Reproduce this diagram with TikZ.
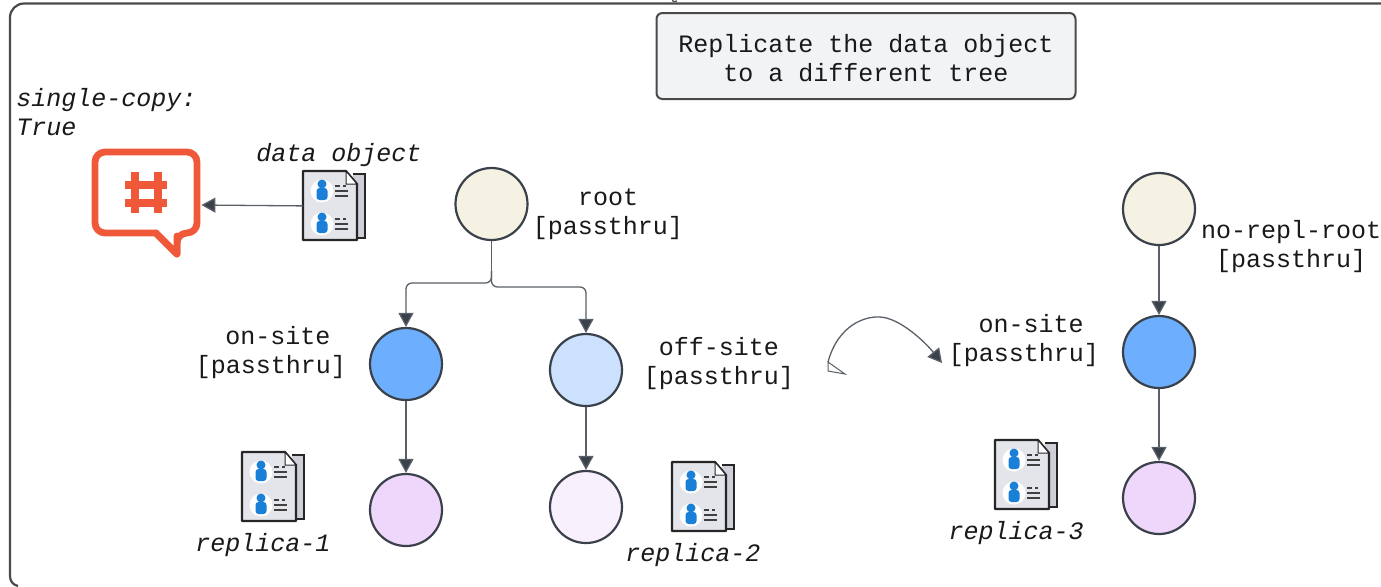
\documentclass[tikz,border=0pt]{standalone}
\usepackage{fontspec}
\setmainfont{Liberation Mono}
\usetikzlibrary{arrows.meta}
\definecolor{edgec}{HTML}{3A414A}
\definecolor{linec}{HTML}{5A6068}
\definecolor{framec}{HTML}{4A4A4A}
\definecolor{rootc}{HTML}{F5F1E3}
\definecolor{blue1}{HTML}{6DAEFF}
\definecolor{blue2}{HTML}{CCE1FD}
\definecolor{pur1}{HTML}{EFD6FB}
\definecolor{pur2}{HTML}{F9F0FD}
\definecolor{boxc}{HTML}{F1F3F5}
\definecolor{orangec}{HTML}{F0583A}
\definecolor{pagec}{HTML}{E4E5EA}
\definecolor{backc}{HTML}{CFCFD8}
\definecolor{personc}{HTML}{1A7FD6}
\tikzset{
 x=0.5pt,y=-0.5pt,
 circ/.style={circle,draw=edgec,line width=1.1pt,minimum size=36pt,inner sep=0pt},
 lbl/.style={font=\fontsize{12.5}{14.3}\selectfont,align=center,inner sep=0pt,text=black!90},
 ital/.style={lbl,font=\fontsize{12.5}{14.5}\selectfont\itshape},
 conn/.style={draw=linec,line width=0.65pt,-{Triangle[length=7pt,width=7.5pt,fill=edgec]}},
 docanchor/.style={inner sep=0pt,minimum width=27pt,minimum height=34.5pt,draw=none},
}
\newcommand{\docicon}[3]{%
 % #1 = left x of front page, #2 = top y of front page, #3 = node name
 \begin{scope}[shift={(#1,#2)}]
  \draw[black!85,line width=1.1pt,fill=backc] (50,3) -- (62,3) -- (62,67) -- (52,67);
  \draw[black!85,line width=1.1pt,fill=pagec,line join=round] (0,0) -- (43,0) -- (54,13) -- (54,69) -- (0,69) -- cycle;
  \draw[black!85,line width=0.5pt,fill=white] (43,0) -- (43,13) -- (54,13) -- cycle;
  \foreach \yy in {18,51}{
   \fill[white] (19,\yy+2) circle (11.5);
   \fill[personc] (19,\yy-5) circle (4.5);
   \fill[personc,rounded corners=1.5pt] (13.5,\yy-1) rectangle (24.5,\yy+11);
   \fill[black!75] (32,\yy-4.5) rectangle (37,\yy-2.5);
   \fill[black!75] (40,\yy-4.5) rectangle (43,\yy-2.5);
   \fill[black!75] (32,\yy+0.5) rectangle (45,\yy+2.5);
   \fill[black!75] (32,\yy+5.5) rectangle (45,\yy+7.5);
  }
 \end{scope}
 \node[docanchor,anchor=north west] (#3) at (#1,#2) {};
}
\begin{document}
\begin{tikzpicture}
\useasboundingbox (0,0) rectangle (1381,586);
\fill[white] (0,0) rectangle (1381,586);
% frame
\draw[framec,line width=1.1pt,rounded corners=7pt] (10,400) -- (10,3.5) -- (1400,3.5);
\draw[framec,line width=1.1pt] (10,400) -- (10,576) .. controls (10,581) and (13,585) .. (18,586);
\draw[framec,line width=0.6pt] (672,0.5) .. controls (673,1.5) and (675,2) .. (677,1);
% title box
\node[lbl,draw=framec,line width=1pt,fill=boxc,rounded corners=3pt,minimum width=209.5pt,minimum height=43pt] (title) at (866,56) {\phantom{}};
\node[lbl] (titletext) at (866,58) {Replicate the data object\\to a different tree};
% circles
\node[circ,fill=rootc] (root) at (491.5,204) {};
\node[circ,fill=blue1] (on1) at (406,364) {};
\node[circ,fill=blue2] (off) at (586,370) {};
\node[circ,fill=pur1] (r1) at (406,510) {};
\node[circ,fill=pur2] (r2) at (586,507) {};
\node[circ,fill=rootc] (nroot) at (1159,209) {};
\node[circ,fill=blue1] (on2) at (1159,352) {};
\node[circ,fill=pur1] (r3) at (1159,498) {};
% texts
\node[ital,align=left,anchor=north west] (single) at (16,88) {single-copy:\\True};
\node[ital] (dolabel) at (339,155) {data object};
\node[lbl] (rootl) at (608,214) {root\\{}[passthru]};
\node[lbl] (onl1) at (271,352.5) {\hspace*{7pt}on-site\\{}[passthru]};
\node[lbl] (offl) at (719,363.5) {off-site\\{}[passthru]};
\node[lbl] (nrootl) at (1291,246.5) {no-repl-root\\{}[passthru]};
\node[lbl] (onl2) at (1024,340.5) {\hspace*{7pt}on-site\\{}[passthru]};
\node[ital] (rl1) at (263,545) {replica-1};
\node[ital] (rl2) at (693,555) {replica-2};
\node[ital] (rl3) at (1016,533) {replica-3};
% documents
\docicon{303}{171}{dobj}
\docicon{242}{452}{doc1}
\docicon{672}{462}{doc2}
\docicon{995}{440}{doc3}
% chat bubble
\node[inner sep=0pt,minimum width=55pt,minimum height=30pt] (chat) at (146,205) {};
\draw[orangec,line width=3.4pt,line join=round] (177,254) -- (156,233) [rounded corners=5pt] -- (95,233) -- (95,152) -- (197,152) -- (197,233) -- (177,233) [sharp corners] -- (177,254) -- cycle;
\fill[white] (172,227) -- (175,235.5) -- (175,248) -- (159,235.5) -- (159,231) -- cycle;
\draw[orangec,line width=3.4pt,line join=round,line cap=round] (156,233) -- (177,254) -- (177,236);
\draw[orangec,line width=3.6pt] (135,172) -- (135,213) (158,172) -- (158,213) (125,185) -- (167,185) (125,203) -- (167,203);
% connectors
\draw[conn] (dobj.west) -- (chat.east);
\coordinate (split) at (491.5,271);
\draw[linec,line width=0.65pt] (root.south) -- (split);
\draw[conn,rounded corners=3pt] (split) -- (491.5,283) -- (406,283) -- (on1.north);
\draw[conn,rounded corners=3pt] (split) -- (491.5,287) -- (586,287) -- (off.north);
\draw[conn] (on1.south) -- (r1.north);
\draw[conn] (off.south) -- (r2.north);
\draw[conn] (nroot.south) -- (on2.north);
\draw[conn] (on2.south) -- (r3.north);
% curved arrow
\coordinate (cstart) at (828,362);
\coordinate (cend) at (942,363);
\draw[conn] (cstart) .. controls (838,325) and (865,316) .. (880,317) .. controls (900,318) and (925,342) .. (cend);
\draw[linec,line width=0.5pt,fill=white] (cstart) -- (828,371) -- (845,374) -- cycle;
\end{tikzpicture}
\end{document}
